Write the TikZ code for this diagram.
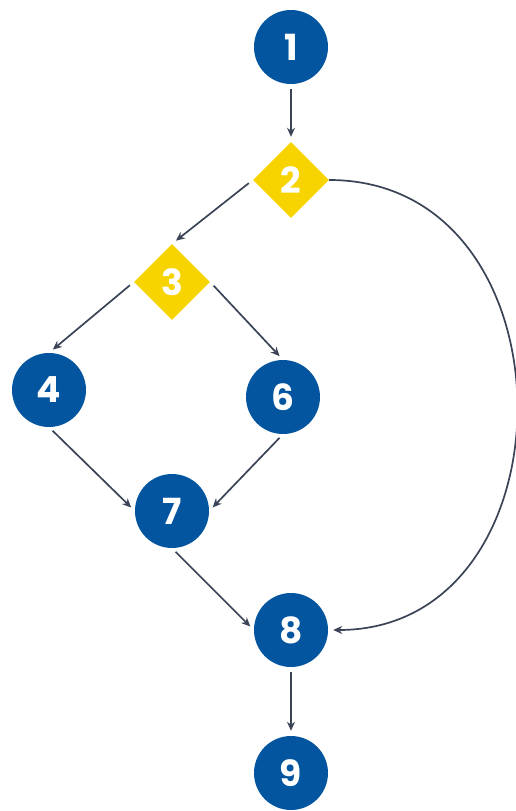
\documentclass[tikz,border=0pt]{standalone}
\usepackage{fontspec}
\setmainfont{Poppins}[UprightFont=*-Bold]
\usetikzlibrary{shapes.geometric,arrows.meta}
\definecolor{nblue}{RGB}{2,85,158}
\definecolor{nyellow}{RGB}{247,211,0}
\definecolor{edgecol}{RGB}{58,68,86}
\tikzset{
  circnode/.style={circle, fill=nblue, minimum size=74pt, inner sep=0pt, text=white,
    font=\fontsize{36}{36}\selectfont},
  dianode/.style={diamond, aspect=1, fill=nyellow, minimum size=76pt, inner sep=0pt, text=white,
    font=\fontsize{36}{36}\selectfont},
  arr/.style={draw=edgecol, line width=1.7pt, -{Stealth[length=9pt,width=8pt]},
    shorten <=5pt, shorten >=5pt},
}
\begin{document}
\begin{tikzpicture}[x=1pt,y=-1pt]
\useasboundingbox (0,0) rectangle (516,811);
% nodes
\node[circnode] (n1) at (291,47)  {1};
\node[dianode]  (n2) at (291,180) {2};
\node[dianode]  (n3) at (172,282) {3};
\node[circnode] (n4) at (49,390)  {4};
\node[circnode] (n6) at (283,397) {6};
\node[circnode] (n7) at (172,511) {7};
\node[circnode] (n8) at (291,630) {8};
\node[circnode] (n9) at (291,773) {9};
% connectors
\draw[arr] (n1.south) -- (n2.north);
\draw[arr] (n2.west) -- (n3.north);
\draw[arr] (n3.west) -- (n4.north);
\draw[arr] (n3.east) -- (n6.north);
\draw[arr] (n4.south) -- (n7.west);
\draw[arr] (n6.south) -- (n7.east);
\draw[arr] (n7.south) -- (n8.west);
\draw[arr] (n8.south) -- (n9.north);
\draw[arr, shorten <=0pt] (n2.east) .. controls +(250,0) and +(250,0) .. (n8.east);
\end{tikzpicture}
\end{document}
